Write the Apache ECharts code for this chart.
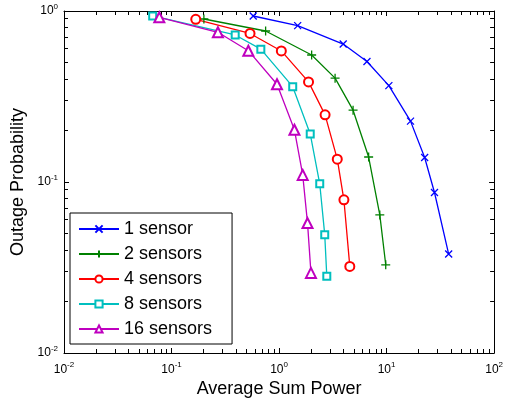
<!DOCTYPE html>
<html>
<head>
<meta charset="utf-8">
<script src="https://cdn.jsdelivr.net/npm/echarts@6/dist/echarts.min.js"></script>
<style>
  html, body { margin: 0; padding: 0; background: #fff; }
  #chart { width: 506px; height: 405px; }
</style>
</head>
<body>
<div id="chart"></div>
<script>
// data: [average sum power, outage probability]
const oneSensor = [
  [0.575, 0.935], [1.49, 0.821], [3.95, 0.641], [6.57, 0.507], [10.5, 0.366],
  [16.7, 0.227], [22.6, 0.139], [27.9, 0.0868], [37.8, 0.0379]
]
const twoSensors = [
  [0.200, 0.898], [0.750, 0.764], [2.01, 0.553], [3.32, 0.405], [4.88, 0.263],
  [6.81, 0.140], [8.65, 0.0642], [9.82, 0.0328]
]
const fourSensors = [
  [0.168, 0.894], [0.537, 0.739], [1.05, 0.584], [1.88, 0.385], [2.68, 0.247],
  [3.48, 0.136], [4.01, 0.0787], [4.55, 0.0321]
]
const eightSensors = [
  [0.0668, 0.935], [0.391, 0.724], [0.677, 0.598], [1.34, 0.361], [1.95, 0.191],
  [2.39, 0.0976], [2.66, 0.0492], [2.78, 0.0281]
]
const sixteenSensors = [
  [0.077, 0.919], [0.270, 0.751], [0.518, 0.586], [0.957, 0.373], [1.39, 0.202],
  [1.66, 0.110], [1.84, 0.0575], [1.98, 0.0294]
]

const seriesNames = ['1 sensor', '2 sensors', '4 sensors', '8 sensors', '16 sensors']
const seriesColors = ['#0000ff', '#008000', '#ff0000', '#00bfbf', '#bf00bf']
// decades of the tick labels
const xDecades = [0.01, 0.1, 1, 10, 100]
const yDecades = [0.01, 0.1, 1]

// minor ticks 2..9 inside each decade
function minorTicks(decades) {
  const out = []
  for (let i = 0; i < decades.length - 1; i++) {
    for (let k = 2; k <= 9; k++) out.push(decades[i] * k)
  }
  return out
}

const crossPath = 'path://M0,0L10,10M10,0L0,10'
const plusPath = 'path://M5,0L5,10M0,5L10,5'
const symbols = [crossPath, plusPath, 'emptyCircle', 'emptyRect', 'emptyTriangle']
const symbolSizes = [7, 9, 9, 7, 10]

const font = 'Liberation Sans, Arial, sans-serif'

const powLabel = {
  show: true,
  color: '#000',
  formatter: v => '{b|10}{s|' + Math.round(Math.log10(v)) + '}',
  rich: {
    b: { fontSize: 12, color: '#000', fontFamily: font },
    s: { fontSize: 8, color: '#000', fontFamily: font, padding: [0, 0, 9, 0] }
  }
}

// log axes carry data, frame line and major ticks
function logAxis(pos, min, max, opts) {
  return Object.assign({
    type: 'log',
    logBase: 10,
    position: pos,
    min: min,
    max: max,
    splitLine: { show: false },
    axisLine: { show: true, onZero: false, lineStyle: { color: '#000', width: 1 } },
    axisTick: { show: true, inside: true, length: 5, lineStyle: { color: '#000' } },
    axisLabel: { show: false }
  }, opts)
}

const data = [oneSensor, twoSensors, fourSensors, eightSensors, sixteenSensors]

const chart = echarts.init(document.getElementById('chart'))

chart.setOption({
  backgroundColor: '#fff',
  animation: false,
  grid: { left: 64, right: 8, top: 11, bottom: 52 },
  xAxis: [
    logAxis('bottom', 0.01, 100, {
      name: 'Average Sum Power',
      nameLocation: 'middle',
      nameGap: 19,
      nameTextStyle: { fontSize: 18, color: '#000', fontFamily: font },
      axisLabel: Object.assign({ margin: 8 }, powLabel)
    }),
    logAxis('top', 0.01, 100, {})
  ],
  yAxis: [
    logAxis('left', 0.01, 1, {
      name: 'Outage Probability',
      nameLocation: 'middle',
      nameGap: 37,
      nameTextStyle: { fontSize: 18, color: '#000', fontFamily: font },
      axisLabel: Object.assign({ margin: 6 }, powLabel)
    }),
    logAxis('right', 0.01, 1, {})
  ],
  legend: {
    orient: 'vertical',
    left: 70,
    top: 213,
    padding: [7, 20, 6, 8],
    itemGap: 7,
    itemWidth: 40,
    itemHeight: 9,
    backgroundColor: '#fff',
    borderColor: '#000',
    borderWidth: 1,
    borderRadius: 0,
    textStyle: { fontSize: 18, lineHeight: 18, color: '#000', fontFamily: font },
    data: seriesNames
  },
  series: data.map((d, i) => ({
    name: seriesNames[i],
    type: 'line',
    xAxisIndex: 0,
    yAxisIndex: 0,
    data: d,
    symbol: symbols[i],
    symbolSize: symbolSizes[i],
    showAllSymbol: true,
    color: seriesColors[i],
    lineStyle: { color: seriesColors[i], width: 1.3 },
    itemStyle: { color: seriesColors[i], borderColor: seriesColors[i], borderWidth: 1.3 }
  }))
})

// minor log ticks on all four sides, placed through the log axes
const crisp = v => Math.round(v - 0.5) + 0.5
const x0 = chart.convertToPixel({ xAxisIndex: 0 }, xDecades[0])
const x1 = chart.convertToPixel({ xAxisIndex: 0 }, xDecades[xDecades.length - 1])
const y0 = chart.convertToPixel({ yAxisIndex: 0 }, yDecades[0])
const y1 = chart.convertToPixel({ yAxisIndex: 0 }, yDecades[yDecades.length - 1])
const tickLen = 4
const ticks = []
function tick(ax, ay, bx, by) {
  ticks.push({
    type: 'line',
    shape: { x1: ax, y1: ay, x2: bx, y2: by },
    style: { stroke: '#000', lineWidth: 1 }
  })
}
minorTicks(xDecades).forEach(v => {
  const px = crisp(chart.convertToPixel({ xAxisIndex: 0 }, v))
  tick(px, y0, px, y0 - tickLen)
  tick(px, y1, px, y1 + tickLen)
})
minorTicks(yDecades).forEach(v => {
  const py = crisp(chart.convertToPixel({ yAxisIndex: 0 }, v))
  tick(x0, py, x0 + tickLen, py)
  tick(x1, py, x1 - tickLen, py)
})
chart.setOption({ graphic: ticks })
</script>
</body>
</html>
